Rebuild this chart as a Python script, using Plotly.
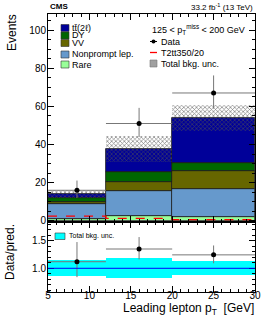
import numpy as np
import plotly.graph_objects as go

# ---------------- data ----------------
bin_edges = [5, 12, 20, 30]
rare = [0.8, 2.3, 1.8]
nonprompt = [7.8, 13.3, 14.7]
vv = [1.0, 4.7, 9.6]
dy = [2.1, 5.5, 4.4]
ttbar = [2.6, 12.0, 23.4]
bkg_unc = [2.1, 6.8, 6.7]
data = [16, 51, 67]
data_err_up = [5.1, 8.2, 9.2]
data_err_dn = [4.0, 7.1, 8.2]
signal = [2.5, 1.3, 0.6]

comp_names = ["Rare", "Nonprompt lep.", "VV", "DY", "tt\u0304(2\u2113)"]
comp_colors = ["#99FF99", "#6699CC", "#666600", "#006600", "#000099"]

edges = np.array(bin_edges, dtype=float)
centers = (edges[:-1] + edges[1:]) / 2
widths = np.diff(edges)
components = [np.array(c) for c in (rare, nonprompt, vv, dy, ttbar)]
total = np.sum(components, axis=0)
unc = np.array(bkg_unc)

FONT = "Liberation Sans, Arial, Helvetica, sans-serif"
W, H = 266, 322
ML, MR, MT, MB = 48, 11, 14, 30


def px(x):
    return (x - ML) / (W - ML - MR)


def py(y):
    return (H - MB - y) / (H - MT - MB)


fig = go.Figure()

# stacked backgrounds (explicit bases)
base = np.zeros(len(centers))
for name, col, vals in zip(comp_names, comp_colors, components):
    fig.add_trace(go.Bar(x=centers, y=vals, base=base, width=widths,
                         marker=dict(color=col, line=dict(color="#1a1a1a", width=0.8)),
                         name=name, showlegend=False, xaxis="x", yaxis="y"))
    base = base + vals

# total bkg uncertainty band
fig.add_trace(go.Bar(x=centers, y=2 * unc, base=total - unc, width=widths,
                     marker=dict(color="rgba(140,140,140,0.5)",
                                 line=dict(width=0),
                                 pattern=dict(shape="x", size=3, solidity=0.4,
                                              fgcolor="rgba(80,80,80,0.75)")),
                     showlegend=False, xaxis="x", yaxis="y"))

# signal step line
sig_y = list(signal) + [signal[-1]]
fig.add_trace(go.Scatter(x=edges, y=sig_y, mode="lines", line_shape="hv",
                         line=dict(color="#FF0000", width=1.3, dash="dash"),
                         showlegend=False, xaxis="x", yaxis="y"))

# data
fig.add_trace(go.Scatter(x=centers, y=data, mode="markers",
                         marker=dict(color="black", size=5),
                         error_x=dict(type="data", array=widths / 2, color="#777777",
                                      thickness=1, width=0),
                         error_y=dict(type="data", symmetric=False, array=data_err_up,
                                      arrayminus=data_err_dn, color="#777777",
                                      thickness=1, width=0),
                         showlegend=False, xaxis="x", yaxis="y"))

# ratio panel
rel_unc = unc / total
fig.add_trace(go.Bar(x=centers, y=2 * rel_unc, base=1 - rel_unc, width=widths,
                     marker=dict(color="#00FFFF", line=dict(width=0)),
                     showlegend=False, xaxis="x2", yaxis="y2"))
ratio = np.array(data) / total
fig.add_trace(go.Scatter(x=centers, y=ratio, mode="markers",
                         marker=dict(color="black", size=5),
                         error_x=dict(type="data", array=widths / 2, color="#777777",
                                      thickness=1, width=0),
                         error_y=dict(type="data", symmetric=False,
                                      array=np.array(data_err_up) / total,
                                      arrayminus=np.array(data_err_dn) / total,
                                      color="#777777", thickness=1, width=0),
                         showlegend=False, xaxis="x2", yaxis="y2"))

axis_common = dict(showgrid=False, zeroline=False, showline=True, linecolor="black",
                   linewidth=1, mirror="ticks", ticks="inside", tickcolor="black",
                   automargin=False,
                   tickfont=dict(family=FONT, size=10, color="black"))

fig.update_layout(
    template="none",
    width=W, height=H, margin=dict(l=ML, r=MR, t=MT, b=MB, autoexpand=False),
    paper_bgcolor="white", plot_bgcolor="white", barmode="overlay", bargap=0,
    xaxis=dict(domain=[0, 1], range=[5, 30], anchor="y", showticklabels=False,
               tick0=5, dtick=5, ticklen=6,
               minor=dict(dtick=1, ticklen=3, ticks="inside", tickcolor="black"),
               **axis_common),
    yaxis=dict(domain=[0.252, 1], range=[-0.6, 108.4], anchor="x",
               tick0=0, dtick=20, ticklen=6, ticklabelstandoff=-1,
               minor=dict(dtick=5, ticklen=3, ticks="inside", tickcolor="black"),
               **axis_common),
    xaxis2=dict(domain=[0, 1], range=[5, 30], anchor="y2", tick0=5, dtick=5, ticklen=6,
                ticklabelstandoff=-6,
                minor=dict(dtick=1, ticklen=3, ticks="inside", tickcolor="black"),
                **axis_common),
    yaxis2=dict(domain=[0, 0.252], range=[0.57, 1.84], anchor="x2",
                tickvals=[1.0, 1.5], ticktext=["1.0", "1.5"], ticklen=6,
                ticklabelstandoff=-1,
                minor=dict(dtick=0.1, ticklen=3, ticks="inside", tickcolor="black"),
                **axis_common),
)

shapes = []
annotations = []


def txt(x, y, s, size=9, xanchor="left", yanchor="middle", angle=0, **kw):
    annotations.append(dict(x=px(x), y=py(y), xref="paper", yref="paper", text=s,
                            showarrow=False, xanchor=xanchor, yanchor=yanchor,
                            textangle=angle,
                            font=dict(family=FONT, size=size, color="black"), **kw))


# unity line in ratio
shapes.append(dict(type="line", xref="x2 domain", yref="y2", x0=0, x1=1, y0=1, y1=1,
                   line=dict(color="#0000FF", width=1)))

# header texts
txt(48, 7, "<b>CMS</b>", size=8)
txt(255, 7, "33.2 fb<sup>-1</sup> (13 TeV)", size=8, xanchor="right")

# axis titles
txt(12, 33, "Events", size=12, xanchor="center", angle=-90)
txt(10, 252, "Data/pred.", size=12, xanchor="center", angle=-90)
txt(256, 309, "Leading lepton p<sub>T</sub>  [GeV]", size=12, xanchor="right")

# left legend column (top to bottom)
left_rows = [28, 35.5, 43, 54.5, 64.5]
for name, col, yy in zip(comp_names[::-1], comp_colors[::-1], left_rows):
    shapes.append(dict(type="rect", xref="paper", yref="paper", x0=px(61), x1=px(69),
                       y0=py(yy - 3.5), y1=py(yy + 3.5), fillcolor=col,
                       line=dict(color="#333333", width=0.6)))
    txt(70, yy, name, size=9)

# right legend column
txt(150, 29.5, "125 &lt; p<sub>T</sub><sup>miss</sup> &lt; 200 GeV", size=9)
shapes.append(dict(type="circle", xref="paper", yref="paper", x0=px(151.5), x1=px(155.5),
                   y0=py(43.5), y1=py(39.5), fillcolor="black", line=dict(color="black", width=0)))
shapes.append(dict(type="line", xref="paper", yref="paper", x0=px(150), x1=px(157),
                   y0=py(41.5), y1=py(41.5), line=dict(color="black", width=1)))
txt(159, 41.5, "Data", size=9)
shapes.append(dict(type="line", xref="paper", yref="paper", x0=px(150), x1=px(157),
                   y0=py(52.5), y1=py(52.5), line=dict(color="#FF0000", width=1.3, dash="dash")))
txt(159, 52.5, "T2tt350/20", size=9)
shapes.append(dict(type="rect", xref="paper", yref="paper", x0=px(150), x1=px(157),
                   y0=py(67), y1=py(60), fillcolor="#a0a0a0",
                   line=dict(color="#777777", width=0.6)))
txt(159, 63.5, "Total bkg. unc.", size=9)

# ratio legend
shapes.append(dict(type="rect", xref="paper", yref="paper", x0=px(55), x1=px(65),
                   y0=py(239.5), y1=py(233), fillcolor="#00FFFF",
                   line=dict(color="#333333", width=0.6)))
txt(67, 236, "Total bkg. unc.", size=7)

fig.update_layout(shapes=shapes, annotations=annotations)
fig.write_html("out.html",
               config={"displayModeBar": False},
               post_script="document.body.style.margin='0';"
                           "document.body.style.overflow='hidden';")
